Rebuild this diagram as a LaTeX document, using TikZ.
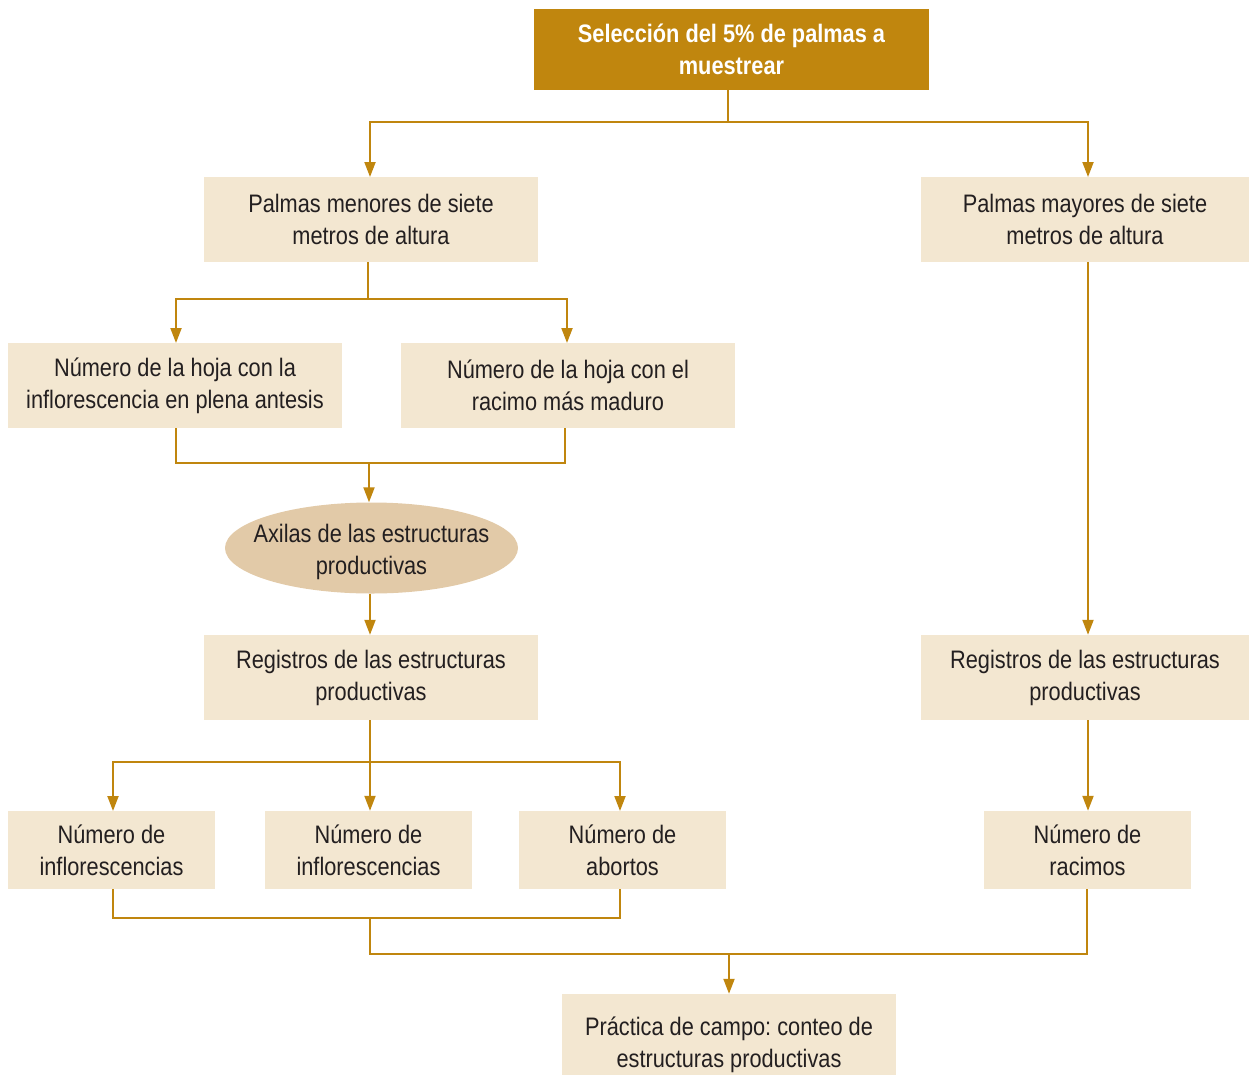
\documentclass[tikz,border=0pt]{standalone}
\usepackage{fontspec}
\setmainfont{Liberation Sans}[FakeStretch=0.86]
\usetikzlibrary{arrows.meta,shapes.geometric}
\definecolor{gold}{HTML}{C0860E}
\definecolor{lightbox}{HTML}{F3E7D1}
\definecolor{ellfill}{HTML}{E2CAA8}
\definecolor{txt}{HTML}{231F20}
\frenchspacing
\tikzset{
  box/.style={fill=lightbox, text=txt, align=center, inner sep=0pt,
    font=\fontsize{25.3}{32}\selectfont},
  topbox/.style={fill=gold, text=white, align=center, inner sep=0pt,
    font=\fontsize{25.3}{32}\selectfont\bfseries},
  ell/.style={ellipse, fill=ellfill, text=txt, align=center, inner xsep=-16pt, inner ysep=-4pt,
    font=\fontsize{25.3}{32}\selectfont},
  conn/.style={draw=gold, line width=2pt},
  arr/.style={conn, -{Triangle[width=11pt,length=15pt]}}
}
\begin{document}
\begin{tikzpicture}[x=1pt,y=-1pt]
\useasboundingbox (0,0) rectangle (1249,1074);
% nodes
\node[topbox, minimum width=395pt, minimum height=81pt] (top) at (731.5,49.5) {Selección del 5\% de palmas a\\muestrear};
\node[box, minimum width=334pt, minimum height=85pt] (menores) at (371,219.5) {Palmas menores de siete\\metros de altura};
\node[box, minimum width=328pt, minimum height=85pt] (mayores) at (1085,219.5) {Palmas mayores de siete\\metros de altura};
\node[box, minimum width=334pt, minimum height=85pt] (antesis) at (175,385.5) {Número de la hoja con la\\inflorescencia en plena antesis};
\node[box, minimum width=334pt, minimum height=85pt] (racimo) at (568,385.5) {Número de la hoja con el\\racimo más maduro};
\node[ell, minimum width=293pt, minimum height=91pt] (axilas) at (371.5,548) {\rule{0pt}{27pt}Axilas de las estructuras\\productivas};
\node[box, minimum width=334pt, minimum height=85pt] (regL) at (371,677.5) {Registros de las estructuras\\productivas};
\node[box, minimum width=328pt, minimum height=85pt] (regR) at (1085,677.5) {Registros de las estructuras\\productivas};
\node[box, minimum width=207pt, minimum height=78pt] (inf1) at (111.5,850) {Número de\\inflorescencias};
\node[box, minimum width=207pt, minimum height=78pt] (inf2) at (368.5,850) {Número de\\inflorescencias};
\node[box, minimum width=207pt, minimum height=78pt] (abortos) at (622.5,850) {Número de\\abortos};
\node[box, minimum width=207pt, minimum height=78pt] (racimos) at (1087.5,850) {Número de\\racimos};
\node[box, minimum width=334pt, minimum height=102pt] (practica) at (729,1045) {Práctica de campo: conteo de\\estructuras productivas};
% junction coordinates
\coordinate (j1) at (728,122);
\coordinate (j2) at (368,299);
\coordinate (j3) at (369,463);
\coordinate (j4) at (370,762);
\coordinate (j5) at (370,918);
\coordinate (j6) at (729,954);
% connectors
\draw[conn] (top.south -| j1) -- (j1);
\draw[arr] (j1) -| (370,177);
\draw[arr] (j1) -| (1088,177);
\draw[conn] (menores.south -| j2) -- (j2);
\draw[arr] (j2) -| (176,343);
\draw[arr] (j2) -| (567,343);
\draw[conn] (176,428) |- (j3);
\draw[conn] (565,428) |- (j3);
\draw[arr] (j3) -- (axilas.north -| j3);
\draw[arr] (axilas.south -| 370,0) -- (regL.north -| 370,0);
\draw[arr] (regL.south -| j4) -- (inf2.north -| j4);
\draw[arr] (j4) -| (113,811);
\draw[arr] (j4) -| (620,811);
\draw[arr] (mayores.south -| 1088,0) -- (regR.north -| 1088,0);
\draw[arr] (regR.south -| 1088,0) -- (racimos.north -| 1088,0);
\draw[conn] (113,889) |- (370,918) -| (620,889);
\draw[conn] (j5) -- (370,954) -| (1087,889);
\draw[arr] (j6) -- (practica.north -| j6);
\end{tikzpicture}
\end{document}
